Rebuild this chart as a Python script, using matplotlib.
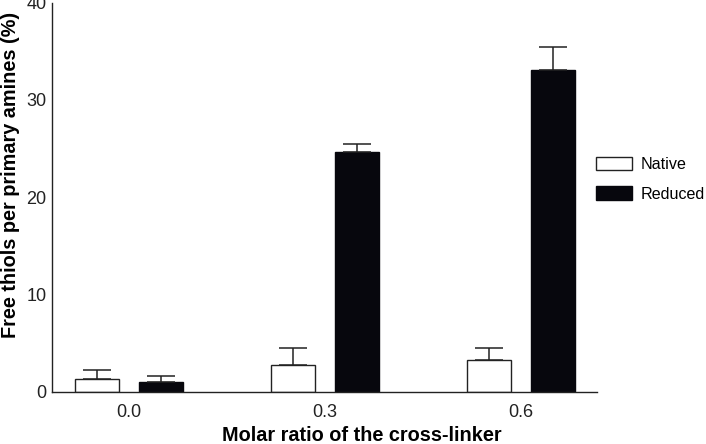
import numpy as np
import matplotlib.pyplot as plt

plt.rcParams['font.family'] = ['Liberation Sans', 'DejaVu Sans']

# datos
ratios = ['0.0', '0.3', '0.6']
native = [1.27, 2.71, 3.3]
native_err = [0.93, 1.74, 1.15]
reduced = [0.99, 24.7, 33.06]
reduced_err = [0.66, 0.82, 2.36]

x = np.arange(len(ratios))
w = 0.224
off = 0.163

fig = plt.figure(figsize=(7.06, 4.44), dpi=100)
ax = fig.add_axes([0.0737, 0.1178, 0.772, 0.876])

err_kw = dict(ecolor='#222222', elinewidth=1.1, capsize=10, capthick=1.1)
ax.bar(x - off, native, w, color='white', edgecolor='#222222', linewidth=1,
       yerr=[np.zeros(3), native_err], error_kw=err_kw, label='Native')
ax.bar(x + off, reduced, w, color='#07070d', edgecolor='#07070d', linewidth=1,
       yerr=[np.zeros(3), reduced_err], error_kw=err_kw, label='Reduced')

ax.set_xlim(-0.393, 2.388)
ax.set_ylim(0, 40)
ax.set_xticks(x)
ax.set_xticklabels(ratios)
ax.set_yticks([0, 10, 20, 30, 40])
ax.tick_params(axis='both', length=0, labelsize=13, pad=9, colors='#222222')
ax.tick_params(axis='y', pad=4)

for s in ['top', 'right']:
    ax.spines[s].set_visible(False)
for s in ['left', 'bottom']:
    ax.spines[s].set_color('#222222')
    ax.spines[s].set_linewidth(1)

ax.set_xlabel('Molar ratio of the cross-linker', fontsize=14.3, fontweight='bold')
ax.set_ylabel('Free thiols per primary amines (%)', fontsize=14.3, fontweight='bold')
ax.xaxis.set_label_coords(0.569, -0.088)
ax.yaxis.set_label_coords(-0.059, 0.557)

fig.legend(loc='upper left', bbox_to_anchor=(0.8445, 0.6473), frameon=False, fontsize=11.6,
           handlelength=2.2, handleheight=0.93, labelspacing=0.88, handletextpad=0.55,
           borderpad=0, borderaxespad=0)

fig.savefig('out.png', dpi=100)
